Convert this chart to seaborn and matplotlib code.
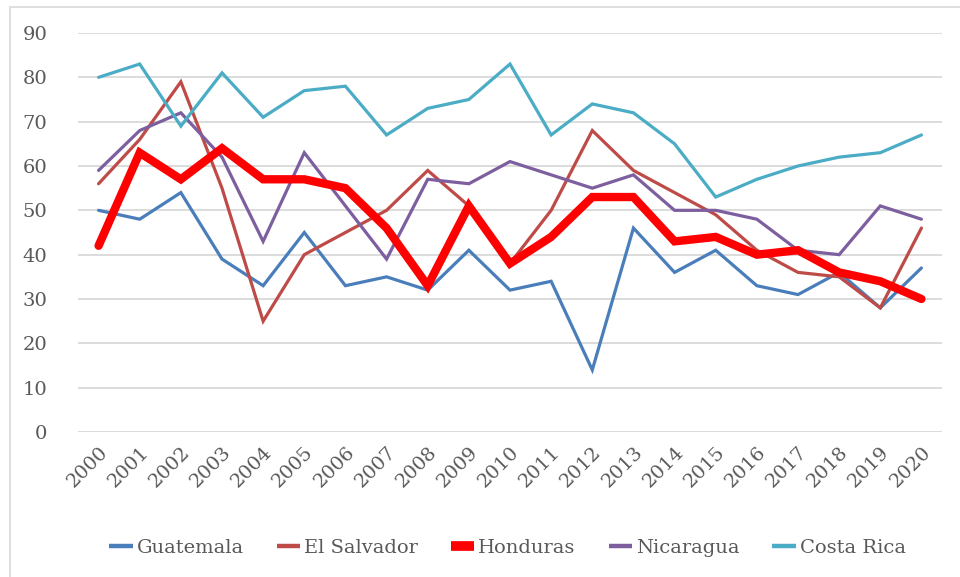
import matplotlib
matplotlib.use("Agg")
import matplotlib.pyplot as plt
import seaborn as sns
import pandas as pd
from matplotlib.patches import Rectangle

# Datos
years = [str(y) for y in range(2000, 2021)]
guatemala = [50, 48, 54, 39, 33, 45, 33, 35, 32, 41, 32, 34, 14, 46, 36, 41, 33, 31, 36, 28, 37]
el_salvador = [56, 66, 79, 55, 25, 40, 45, 50, 59, 51, 38, 50, 68, 59, 54, 49, 41, 36, 35, 28, 46]
honduras = [42, 63, 57, 64, 57, 57, 55, 46, 33, 51, 38, 44, 53, 53, 43, 44, 40, 41, 36, 34, 30]
nicaragua = [59, 68, 72, 62, 43, 63, 51, 39, 57, 56, 61, 58, 55, 58, 50, 50, 48, 41, 40, 51, 48]
costa_rica = [80, 83, 69, 81, 71, 77, 78, 67, 73, 75, 83, 67, 74, 72, 65, 53, 57, 60, 62, 63, 67]

series = {
    "Guatemala": guatemala,
    "El Salvador": el_salvador,
    "Honduras": honduras,
    "Nicaragua": nicaragua,
    "Costa Rica": costa_rica,
}
colors = {
    "Guatemala": "#4a7ebb",
    "El Salvador": "#be4b48",
    "Honduras": "#ff0000",
    "Nicaragua": "#7d5fa0",
    "Costa Rica": "#4bacc6",
}

sns.set_style("white")
plt.rcParams["font.family"] = ["DejaVu Serif", "DejaVu Sans"]

fig = plt.figure(figsize=(9.6, 5.77), dpi=100)
ax = fig.add_axes([78 / 960, 1 - 432 / 577, (942 - 78) / 960, (432 - 33) / 577])

# borde del area del grafico
fig.patches.append(Rectangle((10 / 960, -0.1), 1.2, 1 - 7 / 577 + 0.1,
                             transform=fig.transFigure, fill=False,
                             edgecolor="#d9d9d9", linewidth=1.2))

for name, vals in series.items():
    df = pd.DataFrame({"year": list(range(len(years))), "value": vals})
    lw = 6.0 if name == "Honduras" else 2.3
    sns.lineplot(data=df, x="year", y="value", ax=ax, color=colors[name],
                 linewidth=lw, label=name, zorder=3 if name != "Honduras" else 4,
                 solid_joinstyle="miter")

ax.set_xlim(-0.5, len(years) - 0.5)
ax.set_ylim(0, 90)
ax.set_yticks(range(0, 91, 10))
ax.set_xticks(range(len(years)))
ax.set_xticklabels(years, rotation=45, ha="right", rotation_mode="anchor")
ax.tick_params(axis="both", length=0, labelsize=14, labelcolor="#595959")
ax.tick_params(axis="y", pad=22)
ax.tick_params(axis="x", pad=8)
ax.set_xlabel("")
ax.set_ylabel("")
ax.grid(axis="y", color="#d9d9d9", linewidth=1.3)
ax.set_axisbelow(True)
for s in ax.spines.values():
    s.set_visible(False)

leg = ax.legend(loc="upper center", bbox_to_anchor=(0.497, -0.225), ncol=5,
                frameon=False, fontsize=14, handlelength=1.2, handletextpad=0.2,
                columnspacing=1.7, labelcolor="#595959")
for h, name in zip(leg.get_lines(), series):
    h.set_linewidth(7.0 if name == "Honduras" else 3.2)
    h.set_solid_capstyle("butt")

fig.savefig("out.png", dpi=100)
